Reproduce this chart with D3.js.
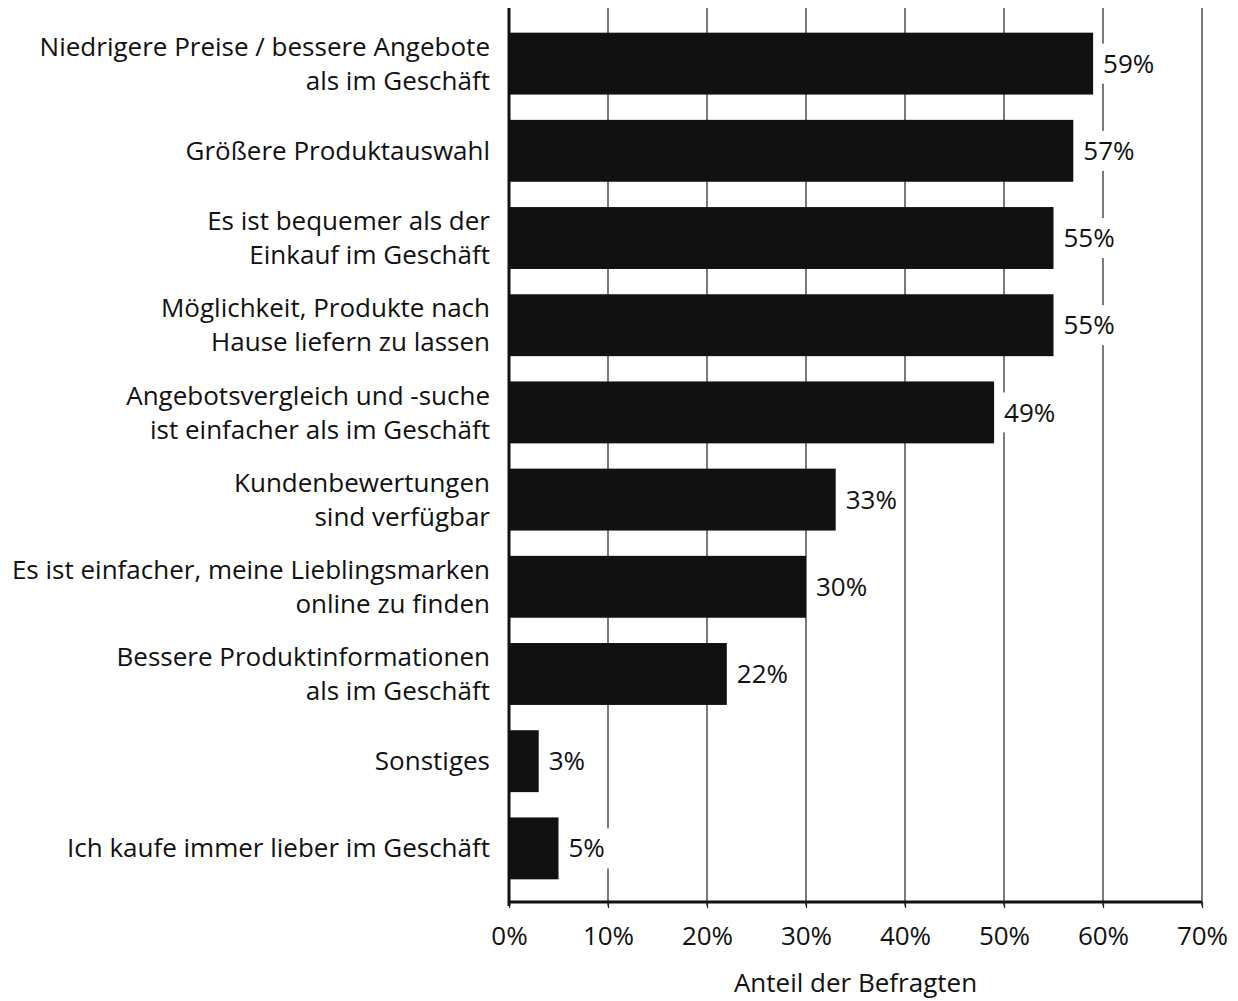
<!DOCTYPE html>
<html>
<head>
<meta charset="utf-8">
<script src="https://cdn.jsdelivr.net/npm/d3@7"></script>
<style>
  body { margin: 0; background: #fff; }
  text { font-family: "Open Sans", "Liberation Sans", sans-serif; fill: #111; }
</style>
</head>
<body>
<div id="chart"></div>
<script>
const width = 1238;
const height = 1001;

// categories, top to bottom (each entry = lines of the label)
const categories = [
  ['Niedrigere Preise / bessere Angebote', 'als im Geschäft'],
  ['Größere Produktauswahl'],
  ['Es ist bequemer als der', 'Einkauf im Geschäft'],
  ['Möglichkeit, Produkte nach', 'Hause liefern zu lassen'],
  ['Angebotsvergleich und -suche', 'ist einfacher als im Geschäft'],
  ['Kundenbewertungen', 'sind verfügbar'],
  ['Es ist einfacher, meine Lieblingsmarken', 'online zu finden'],
  ['Bessere Produktinformationen', 'als im Geschäft'],
  ['Sonstiges'],
  ['Ich kaufe immer lieber im Geschäft']
];

const values = [59, 57, 55, 55, 49, 33, 30, 22, 3, 5];

const ticks = [0, 10, 20, 30, 40, 50, 60, 70];

const axisTitle = 'Anteil der Befragten';

const margin = { left: 509, right: 36, top: 8, bottom: 99 };
const fontSize = 26;

const svg = d3.select('#chart')
  .append('svg')
  .attr('width', width)
  .attr('height', height);

const x = d3.scaleLinear()
  .domain([0, 70])
  .range([margin.left, width - margin.right]);

const y = d3.scaleBand()
  .domain(d3.range(categories.length))
  .range([margin.top + 2, height - margin.bottom])
  .paddingInner(0.29)
  .paddingOuter(0.26);

const plotBottom = height - margin.bottom;

// gridlines
svg.append('g')
  .selectAll('line')
  .data(ticks.slice(1))
  .join('line')
  .attr('x1', d => x(d))
  .attr('x2', d => x(d))
  .attr('y1', margin.top)
  .attr('y2', plotBottom + 4)
  .attr('stroke', '#222')
  .attr('stroke-width', 1.2);

// bars
svg.append('g')
  .selectAll('rect')
  .data(values)
  .join('rect')
  .attr('x', x(0))
  .attr('y', (d, i) => y(i))
  .attr('width', d => x(d) - x(0))
  .attr('height', y.bandwidth())
  .attr('fill', '#111');

// value labels with white background
const valueLabels = svg.append('g')
  .selectAll('g')
  .data(values)
  .join('g')
  .attr('transform', (d, i) => `translate(${x(d) + 7},${y(i) + y.bandwidth() / 2})`);

const bg = valueLabels.append('rect')
  .attr('fill', '#fff');

const vt = valueLabels.append('text')
  .attr('x', 3)
  .attr('dy', '0.35em')
  .attr('font-size', fontSize)
  .text(d => d + '%');

vt.each(function (d, i) {
  const w = this.getComputedTextLength();
  d3.select(bg.nodes()[i])
    .attr('x', 0)
    .attr('y', -20)
    .attr('width', w + 8)
    .attr('height', 40);
});

// x axis
const xAxis = d3.axisBottom(x)
  .tickValues(ticks)
  .tickFormat(d => d + '%')
  .tickSize(6)
  .tickPadding(19);

const gx = svg.append('g')
  .attr('transform', `translate(0,${plotBottom})`)
  .call(xAxis);

gx.select('.domain').attr('stroke', '#111').attr('stroke-width', 3).attr('d', `M${x(0)},0H${x(70)}`);
gx.selectAll('.tick line').attr('stroke', '#222').attr('stroke-width', 1.2);
gx.selectAll('.tick text')
  .attr('font-size', fontSize)
  .attr('font-family', '"Open Sans", "Liberation Sans", sans-serif')
  .attr('fill', '#111');

// y axis line
svg.append('line')
  .attr('x1', x(0))
  .attr('x2', x(0))
  .attr('y1', margin.top)
  .attr('y2', plotBottom + 4)
  .attr('stroke', '#111')
  .attr('stroke-width', 3);

// category labels
const lineH = 34;
const catLabels = svg.append('g')
  .selectAll('text')
  .data(categories)
  .join('text')
  .attr('text-anchor', 'end')
  .attr('font-size', fontSize)
  .attr('x', x(0) - 19)
  .attr('y', (d, i) => y(i) + y.bandwidth() / 2 - (d.length - 1) * lineH / 2);

catLabels.selectAll('tspan')
  .data(d => d)
  .join('tspan')
  .attr('x', x(0) - 19)
  .attr('dy', (d, i) => i === 0 ? '0.35em' : lineH)
  .text(d => d);

// axis title
svg.append('text')
  .attr('x', x(35))
  .attr('y', height - 9)
  .attr('text-anchor', 'middle')
  .attr('font-size', fontSize)
  .text(axisTitle);
</script>
</body>
</html>
